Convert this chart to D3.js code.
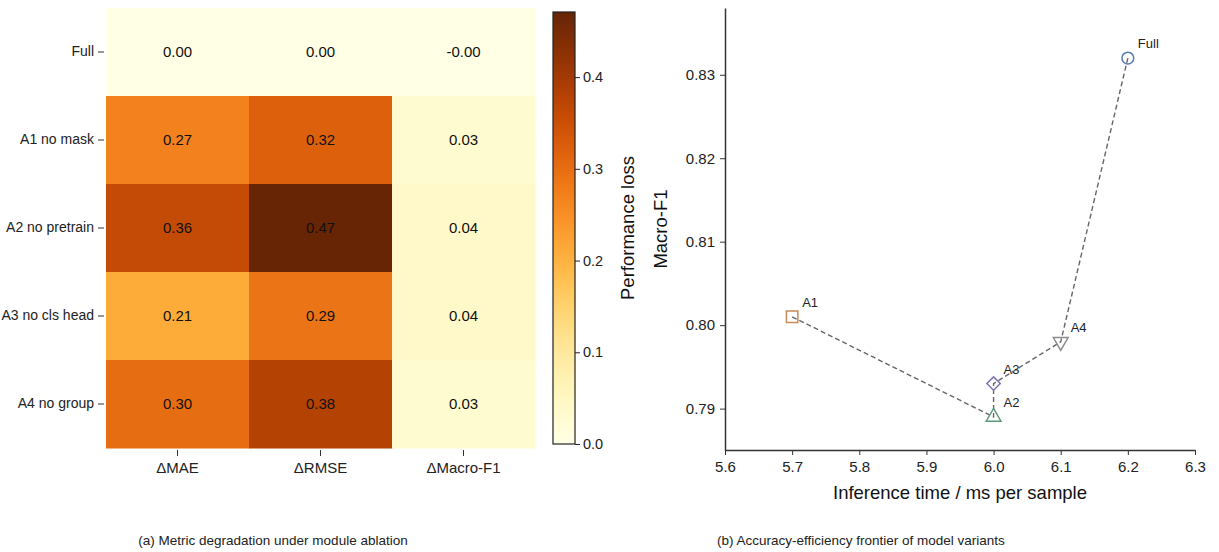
<!DOCTYPE html>
<html>
<head>
<meta charset="utf-8">
<script src="https://cdn.jsdelivr.net/npm/d3@7"></script>
<style>
  body { margin: 0; background: #fff; }
  svg { font-family: "Liberation Sans", Arial, sans-serif; }
</style>
</head>
<body>
<div id="chart"></div>
<script>
// heatmap data
const variants = ["Full", "A1 no mask", "A2 no pretrain", "A3 no cls head", "A4 no group"];
const metrics = ["ΔMAE", "ΔRMSE", "ΔMacro-F1"];
const lossMAE = [0.00, 0.27, 0.36, 0.21, 0.30];
const lossRMSE = [0.00, 0.32, 0.47, 0.29, 0.38];
const lossF1 = [-0.001, 0.03, 0.04, 0.04, 0.03];
const colorbarTicks = [0, 0.1, 0.2, 0.3, 0.4];

// frontier data (in line order)
const models = ["A1", "A2", "A3", "A4", "Full"];
const timeMs = [5.7, 6.0, 6.0, 6.1, 6.2];
const macroF1 = [0.801, 0.789, 0.793, 0.798, 0.832];
const markers = ["square", "triangle", "diamond", "triangleDown", "circle"];
const markerColors = ["#c98a55", "#5f9a78", "#8172b3", "#8c8c8c", "#5a7bb0"];
const xTicks = [5.6, 5.7, 5.8, 5.9, 6.0, 6.1, 6.2, 6.3];
const yTicks = [0.79, 0.80, 0.81, 0.82, 0.83];

const W = 1219, H = 552;
const svg = d3.select("#chart").append("svg")
    .attr("width", W).attr("height", H)
    .attr("viewBox", `0 0 ${W} ${H}`);

// ---------- (a) heatmap ----------
const hm = { left: 106, right: 535, top: 8, bottom: 448 };
const cells = [];
variants.forEach((v, i) => {
    [lossMAE, lossRMSE, lossF1].forEach((arr, j) => {
        cells.push({ row: v, col: metrics[j], value: arr[i] });
    });
});
const vmax = 0.471; // colour scale top (max loss)

const xBand = d3.scaleBand().domain(metrics).range([hm.left, hm.right]);
const yBand = d3.scaleBand().domain(variants).range([hm.top, hm.bottom]);
const color = d3.scaleSequential(d3.interpolateYlOrBr).domain([0, vmax]);

svg.append("g").selectAll("rect")
    .data(cells).enter().append("rect")
    .attr("x", d => xBand(d.col))
    .attr("y", d => yBand(d.row))
    .attr("width", xBand.bandwidth() + 0.5)
    .attr("height", yBand.bandwidth() + 0.5)
    .attr("fill", d => color(Math.max(0, d.value)));

svg.append("g").selectAll("text")
    .data(cells).enter().append("text")
    .attr("x", d => xBand(d.col) + xBand.bandwidth() / 2)
    .attr("y", d => yBand(d.row) + yBand.bandwidth() / 2)
    .attr("dy", "0.35em")
    .attr("text-anchor", "middle")
    .attr("font-size", 15)
    .attr("fill", "#111")
    .text(d => d.value.toFixed(2));

const hmLeftAxis = svg.append("g")
    .attr("transform", `translate(${hm.left - 2},0)`)
    .call(d3.axisLeft(yBand).tickSize(6).tickPadding(4));
hmLeftAxis.select(".domain").remove();
hmLeftAxis.selectAll("text").attr("font-size", 14).attr("fill", "#222");
hmLeftAxis.selectAll("line").attr("stroke", "#333");

const hmBottomAxis = svg.append("g")
    .attr("transform", `translate(0,${hm.bottom + 2})`)
    .call(d3.axisBottom(xBand).tickSize(6).tickPadding(6));
hmBottomAxis.select(".domain").remove();
hmBottomAxis.selectAll("text").attr("font-size", 15).attr("fill", "#222");
hmBottomAxis.selectAll("line").attr("stroke", "#333");

// colorbar
const cb = { x: 553, w: 22, top: 12, bottom: 444 };
const cbScale = d3.scaleLinear().domain([0, vmax]).range([cb.bottom, cb.top]);
const defs = svg.append("defs");
const grad = defs.append("linearGradient").attr("id", "cbgrad")
    .attr("x1", 0).attr("y1", 1).attr("x2", 0).attr("y2", 0);
d3.range(0, 1.001, 0.05).forEach(t => {
    grad.append("stop").attr("offset", t).attr("stop-color", color(t * vmax));
});
svg.append("rect")
    .attr("x", cb.x).attr("y", cb.top)
    .attr("width", cb.w).attr("height", cb.bottom - cb.top)
    .attr("fill", "url(#cbgrad)")
    .attr("stroke", "#222").attr("stroke-width", 1.2);
const cbAxis = svg.append("g")
    .attr("transform", `translate(${cb.x + cb.w},0)`)
    .call(d3.axisRight(cbScale).tickValues(colorbarTicks).tickFormat(d3.format(".1f")).tickSize(5).tickPadding(3));
cbAxis.select(".domain").remove();
cbAxis.selectAll("text").attr("font-size", 14.5).attr("fill", "#222");
cbAxis.selectAll("line").attr("stroke", "#222");
svg.append("text")
    .attr("transform", `translate(634,${(cb.top + cb.bottom) / 2}) rotate(-90)`)
    .attr("text-anchor", "middle")
    .attr("font-size", 18.5)
    .attr("fill", "#111")
    .text("Performance loss");

svg.append("text")
    .attr("x", 273).attr("y", 545)
    .attr("text-anchor", "middle")
    .attr("font-size", 13.5)
    .attr("fill", "#222")
    .text("(a) Metric degradation under module ablation");

// ---------- (b) frontier ----------
const sc = { left: 725, right: 1195, top: 8, bottom: 450 };
const x = d3.scaleLinear().domain([5.6, 6.3]).range([sc.left, sc.right]);
const y = d3.scaleLinear().domain([0.78504, 0.8380]).range([sc.bottom, sc.top]);

const pts = models.map((m, i) => ({ name: m, t: timeMs[i], f: macroF1[i], shape: markers[i], c: markerColors[i] }));

svg.append("path")
    .datum(pts)
    .attr("fill", "none")
    .attr("stroke", "#666")
    .attr("stroke-width", 1.4)
    .attr("stroke-dasharray", "5,3")
    .attr("d", d3.line().x(d => x(d.t)).y(d => y(d.f)));

const shapeOf = {
    circle: d3.symbol().type(d3.symbolCircle).size(110),
    square: d3.symbol().type(d3.symbolSquare).size(130),
    triangle: d3.symbol().type(d3.symbolTriangle).size(95),
    triangleDown: d3.symbol().type(d3.symbolTriangle).size(95),
    diamond: d3.symbol().type(d3.symbolSquare).size(90)
};
const rotOf = { triangleDown: 180, diamond: 45 };
svg.append("g").selectAll("path")
    .data(pts).enter().append("path")
    .attr("transform", d => `translate(${x(d.t)},${y(d.f)}) rotate(${rotOf[d.shape] || 0})`)
    .attr("d", d => shapeOf[d.shape]())
    .attr("fill", "none")
    .attr("stroke", d => d.c)
    .attr("stroke-width", 1.5);

svg.append("g").selectAll("text")
    .data(pts).enter().append("text")
    .attr("x", d => x(d.t) + 10)
    .attr("y", d => y(d.f) - 10)
    .attr("font-size", 13)
    .attr("fill", "#222")
    .text(d => d.name);

const xAxis = svg.append("g")
    .attr("transform", `translate(0,${sc.bottom})`)
    .call(d3.axisBottom(x).tickValues(xTicks).tickFormat(d3.format(".1f")).tickSize(5).tickPadding(6).tickSizeOuter(0));
const yAxis = svg.append("g")
    .attr("transform", `translate(${sc.left},0)`)
    .call(d3.axisLeft(y).tickValues(yTicks).tickFormat(d3.format(".2f")).tickSize(5).tickPadding(5).tickSizeOuter(0));
[xAxis, yAxis].forEach(a => {
    a.select(".domain").attr("stroke", "#333").attr("stroke-width", 1.5);
    a.selectAll("line").attr("stroke", "#333");
    a.selectAll("text").attr("font-size", 15).attr("fill", "#222");
});

svg.append("text")
    .attr("x", (sc.left + sc.right) / 2).attr("y", 499)
    .attr("text-anchor", "middle")
    .attr("font-size", 18.5)
    .attr("fill", "#111")
    .text("Inference time / ms per sample");
svg.append("text")
    .attr("transform", `translate(667,${(sc.top + sc.bottom) / 2}) rotate(-90)`)
    .attr("text-anchor", "middle")
    .attr("font-size", 18.5)
    .attr("fill", "#111")
    .text("Macro-F1");

svg.append("text")
    .attr("x", 717).attr("y", 545)
    .attr("font-size", 13.5)
    .attr("fill", "#222")
    .text("(b) Accuracy-efficiency frontier of model variants");
</script>
</body>
</html>
